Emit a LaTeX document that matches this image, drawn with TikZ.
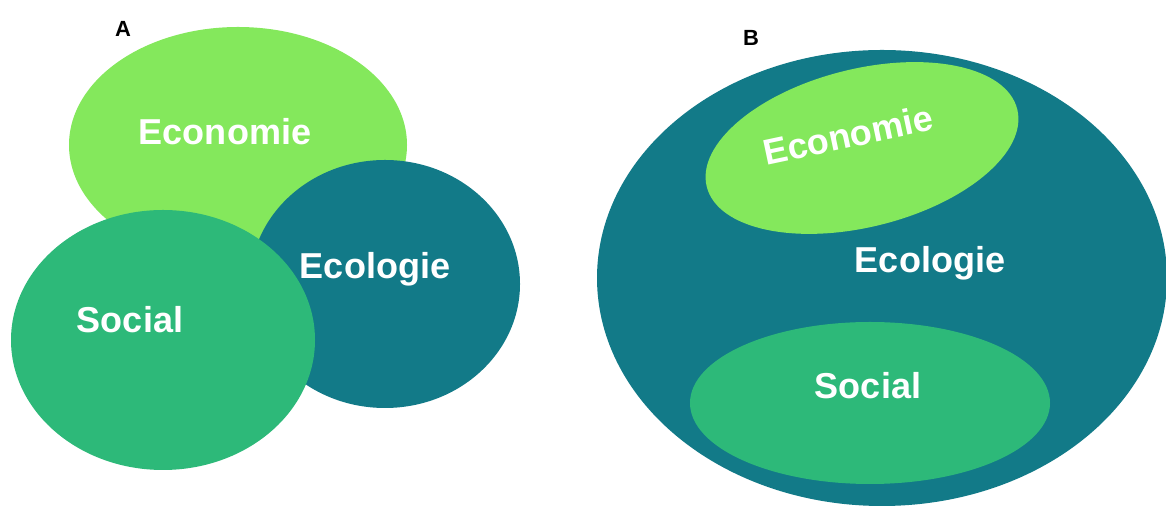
\documentclass[tikz,border=0pt]{standalone}
\usepackage{fontspec}
\setmainfont{Liberation Sans}
\usepackage{tikz}
\definecolor{econgreen}{RGB}{132,232,92}
\definecolor{ecoteal}{RGB}{18,122,136}
\definecolor{socgreen}{RGB}{45,185,121}
\tikzset{
	lbl/.style={text=white, inner sep=0pt, anchor=base, font=\bfseries\fontsize{20.5}{24}\selectfont},
	tag/.style={text=black, inner sep=0pt, anchor=base, font=\bfseries\fontsize{12.5}{15}\selectfont}
}

\begin{document}
\begin{tikzpicture}[x=0.02cm, y=0.02cm]
			%%%%% START %%%%%
			\useasboundingbox (0, 0) rectangle (1166, 506);
			
			% A: three overlapping sets
			\fill[econgreen] (238, 361) ellipse (169 and 118);
			\fill[ecoteal] (385, 222) ellipse (135 and 124);
			\fill[socgreen] (163, 166) ellipse (152 and 130);
			
			\node[tag] (tagA) at (123, 469) {A};
			\node[lbl] (econA) at (225, 361) {Economie};
			\node[lbl] (ecolA) at (375, 227) {Ecologie};
			\node[lbl] (socA) at (130, 173) {Social};
			
			% B: nested sets
			\fill[ecoteal] (882, 228) ellipse (285 and 228);
			\fill[econgreen, rotate around={14:(862, 358)}] (862, 358) ellipse (160 and 79);
			\fill[socgreen] (870, 103) ellipse (180 and 81);
			
			\node[tag] (tagB) at (751, 460) {B};
			\node[lbl, anchor=center, rotate=12] (econB) at (848, 371) {Economie};
			\node[lbl] (ecolB) at (930, 233) {Ecologie};
			\node[lbl] (socB) at (868, 107) {Social};
			
			%%%%% END %%%%%
		\end{tikzpicture}
\end{document}
